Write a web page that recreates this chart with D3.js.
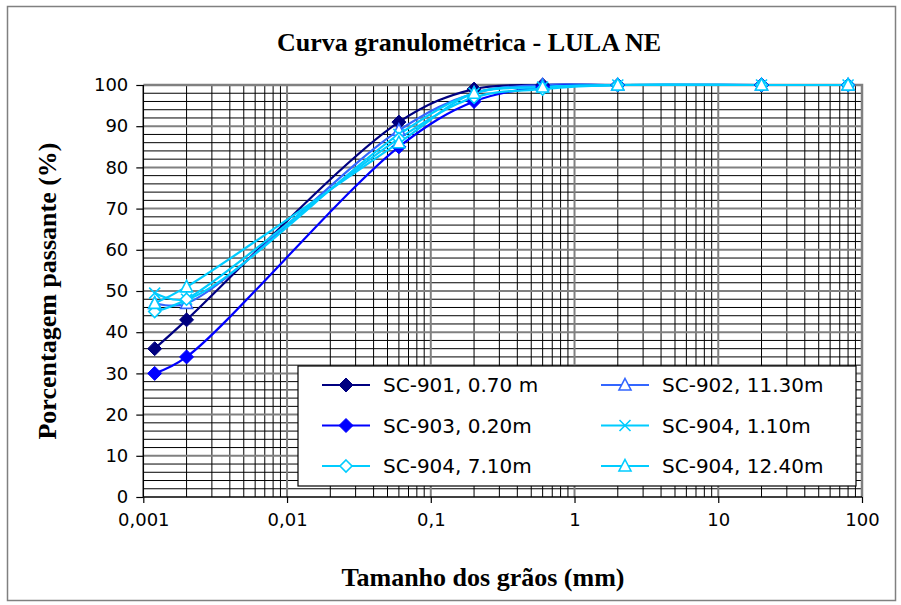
<!DOCTYPE html>
<html><head><meta charset="utf-8">
<script src="https://cdn.jsdelivr.net/npm/d3@7"></script>
<style>body{margin:0;background:#fff}svg{display:block}</style>
</head><body>
<svg id="chart" width="901" height="605"></svg>
<script>
// ---- data ----
const sizes = [0.0012, 0.002, 0.06, 0.2, 0.6, 2, 20, 80];
const seriesNames = ["SC-901, 0.70 m", "SC-902, 11.30m", "SC-903, 0.20m", "SC-904, 1.10m", "SC-904, 7.10m", "SC-904, 12.40m"];
const sc901 = [36, 43, 91, 99, 100, 100, 100, 100];
const sc902 = [47, 47, 89, 98, 100, 100, 100, 100];
const sc903 = [30, 34, 85, 96, 99.5, 100, 100, 100];
const sc904a = [49.5, 48, 88, 98, 99.5, 100, 100, 100];
const sc904b = [45, 48, 87, 97, 99, 100, 100, 100];
const sc904c = [47, 51, 86, 98, 99.5, 100, 100, 100];
const seriesValues = [sc901, sc902, sc903, sc904a, sc904b, sc904c];
const seriesColors = ["#000080", "#3366FF", "#0000FF", "#00CCFF", "#00CCFF", "#00CCFF"];
const seriesMarkers = ["diamond", "triangle", "diamond", "cross", "diamondOpen", "triangle"];
const xTickValues = [0.001, 0.01, 0.1, 1, 10, 100];
const xTickLabels = ["0,001", "0,01", "0,1", "1", "10", "100"];
const yTickValues = [0, 10, 20, 30, 40, 50, 60, 70, 80, 90, 100];
const title = "Curva granulométrica - LULA NE";
const xTitle = "Tamanho dos grãos (mm)";
const yTitle = "Porcentagem passante (%)";

// ---- layout ----
const svg = d3.select("#chart");
const L = 143.3, R = 862, T = 85, B = 497;
const x = d3.scaleLog().domain([0.001, 100]).range([L, R]);
const y = d3.scaleLinear().domain([0, 100]).range([B, T]);
const sans = "DejaVu Sans, Verdana, sans-serif";
const serif = "Liberation Serif, Times New Roman, serif";

// outer border
svg.append("rect").attr("x", 7.5).attr("y", 6.5).attr("width", 888).attr("height", 594)
  .attr("fill", "#fff").attr("stroke", "#808080").attr("stroke-width", 1.5);

// gridlines
const g = svg.append("g");
const minorX = [];
for (let e = -3; e < 2; e++) for (let k = 2; k <= 9; k++) minorX.push(k * Math.pow(10, e));
const minorY = d3.range(2, 100, 2).filter(v => v % 10 !== 0);
g.selectAll(".mx").data(minorX).enter().append("line")
  .attr("x1", d => x(d)).attr("x2", d => x(d)).attr("y1", T).attr("y2", B)
  .attr("stroke", "#000").attr("stroke-width", 1);
g.selectAll(".my").data(minorY).enter().append("line")
  .attr("x1", L).attr("x2", R).attr("y1", d => y(d)).attr("y2", d => y(d))
  .attr("stroke", "#000").attr("stroke-width", 1);
g.selectAll(".Mx").data(xTickValues.slice(1, -1)).enter().append("line")
  .attr("x1", d => x(d)).attr("x2", d => x(d)).attr("y1", T).attr("y2", B)
  .attr("stroke", "#808080").attr("stroke-width", 2);
g.selectAll(".My").data(yTickValues.slice(1, -1)).enter().append("line")
  .attr("x1", L).attr("x2", R).attr("y1", d => y(d)).attr("y2", d => y(d))
  .attr("stroke", "#808080").attr("stroke-width", 2);
svg.append("path").attr("d", `M${L},${T}H${R}V${B}`).attr("fill", "none")
  .attr("stroke", "#808080").attr("stroke-width", 2.5);

// axes
const xAxis = d3.axisBottom(x).tickValues(xTickValues).tickFormat((d, i) => xTickLabels[i]).tickSize(6).tickPadding(10);
const yAxis = d3.axisLeft(y).tickValues(yTickValues).tickSize(7).tickPadding(8);
const gx = svg.append("g").attr("transform", `translate(0,${B})`).call(xAxis);
const gy = svg.append("g").attr("transform", `translate(${L},0)`).call(yAxis);
[gx, gy].forEach(a => {
  a.select(".domain").attr("stroke", "#000").attr("stroke-width", 1.5);
  a.selectAll(".tick line").attr("stroke", "#000").attr("stroke-width", 1.2);
  a.selectAll("text").attr("font-family", sans).attr("font-size", 18).attr("fill", "#000");
});
gy.select(".domain").attr("d", `M0,${B}V${T}`);
gx.select(".domain").attr("d", `M${L},0H${R}`);

// series
const line = d3.line().x((d, i) => x(sizes[i])).y(d => y(d)).curve(d3.curveCatmullRom.alpha(0.5));
const sg = svg.append("g");
function drawMarker(sel, type, color) {
  if (type === "diamond") {
    sel.append("path").attr("d", "M0,-7L7,0L0,7L-7,0Z").attr("fill", color).attr("stroke", color).attr("stroke-width", 1);
  } else if (type === "diamondOpen") {
    sel.append("path").attr("d", "M0,-6L6,0L0,6L-6,0Z").attr("fill", "#fff").attr("stroke", color).attr("stroke-width", 1.6);
  } else if (type === "triangle") {
    sel.append("path").attr("d", "M0,-6.5L6,5L-6,5Z").attr("fill", "#fff").attr("stroke", color).attr("stroke-width", 1.6);
  } else if (type === "cross") {
    sel.append("path").attr("d", "M-5.5,-5.5L5.5,5.5M-5.5,5.5L5.5,-5.5").attr("fill", "none").attr("stroke", color).attr("stroke-width", 1.6);
  }
}
seriesValues.forEach((vals, si) => {
  sg.append("path").attr("d", line(vals)).attr("fill", "none")
    .attr("stroke", seriesColors[si]).attr("stroke-width", 2.2);
});
seriesValues.forEach((vals, si) => {
  vals.forEach((v, i) => {
    const m = sg.append("g").attr("transform", `translate(${x(sizes[i])},${y(v)})`);
    drawMarker(m, seriesMarkers[si], seriesColors[si]);
  });
});

// legend
const lg = svg.append("g");
lg.append("rect").attr("x", 298).attr("y", 366).attr("width", 558).attr("height", 120)
  .attr("fill", "#fff").attr("stroke", "#000").attr("stroke-width", 1.2);
seriesNames.forEach((name, si) => {
  const col = si % 2, row = Math.floor(si / 2);
  const lx = col === 0 ? 322 : 601;
  const ly = 385 + row * 40.5;
  const it = lg.append("g");
  it.append("line").attr("x1", lx).attr("x2", lx + 48).attr("y1", ly).attr("y2", ly)
    .attr("stroke", seriesColors[si]).attr("stroke-width", 2.2);
  const m = it.append("g").attr("transform", `translate(${lx + 24},${ly})`);
  drawMarker(m, seriesMarkers[si], seriesColors[si]);
  it.append("text").attr("x", lx + 61).attr("y", ly).attr("dy", "0.35em")
    .attr("font-family", sans).attr("font-size", 20)
    .text(name);
});

// titles
svg.append("text").attr("x", 469).attr("y", 51).attr("text-anchor", "middle")
  .attr("font-family", serif).attr("font-weight", "bold").attr("font-size", 26)
  .text(title);
svg.append("text").attr("x", 483).attr("y", 586).attr("text-anchor", "middle")
  .attr("font-family", serif).attr("font-weight", "bold").attr("font-size", 26)
  .text(xTitle);
svg.append("text").attr("transform", "translate(56,291) rotate(-90)").attr("text-anchor", "middle")
  .attr("font-family", serif).attr("font-weight", "bold").attr("font-size", 26)
  .text(yTitle);
</script>
</body></html>
